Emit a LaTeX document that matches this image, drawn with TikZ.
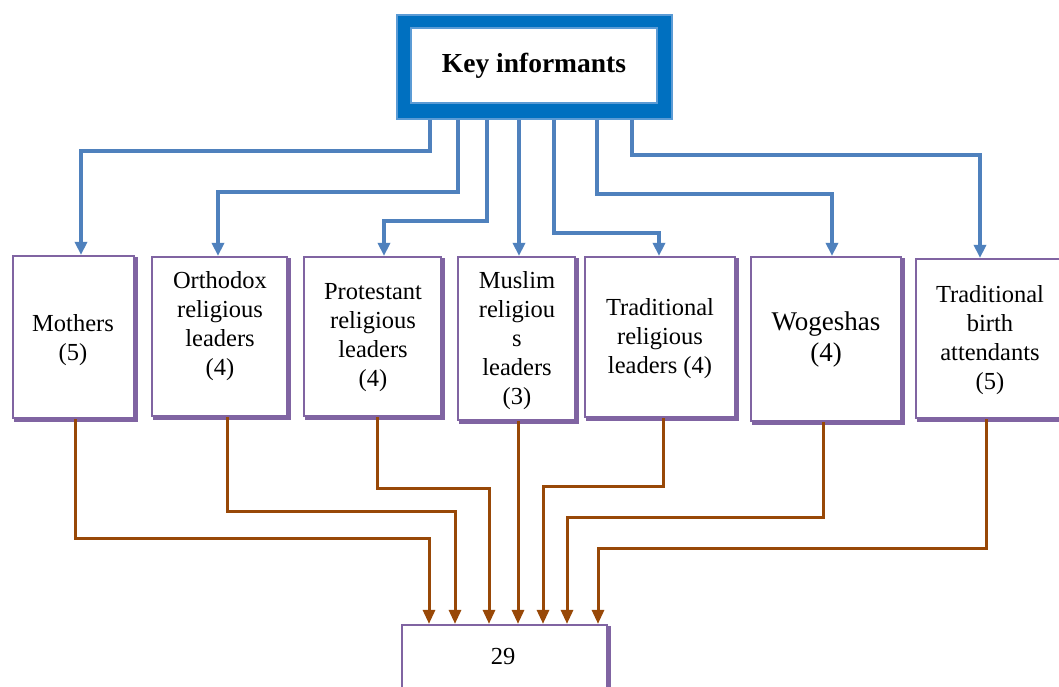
\documentclass[tikz,border=0pt]{standalone}
\usepackage{fontspec}
\setmainfont{Liberation Serif}
\usetikzlibrary{arrows.meta,shadows,calc}
\definecolor{keyblue}{HTML}{0070C0}
\definecolor{keyedge}{HTML}{5B9BD5}
\definecolor{arrblue}{HTML}{4F81BD}
\definecolor{boxpurple}{HTML}{8064A2}
\definecolor{arrbrown}{HTML}{984807}
\tikzset{
  pbox/.style={draw=boxpurple, line width=2.2pt, fill=white, inner sep=0pt,
    general shadow={fill=boxpurple, draw=boxpurple, line width=2.2pt, shadow xshift=2.5pt, shadow yshift=-2.5pt}},
  lbl/.style={align=center, inner sep=0pt, font=\fontsize{24.5}{29}\selectfont},
  blueconn/.style={draw=arrblue, line width=3.5pt, -{Triangle[width=12pt,length=13pt]}},
  brownconn/.style={draw=arrbrown, line width=3pt, -{Triangle[width=12pt,length=14pt]}},
}
\begin{document}
\begin{tikzpicture}[x=1pt,y=-1pt]
\useasboundingbox (0,0) rectangle (1059,687);
\clip (0,0) rectangle (1059,687);
\fill[white] (0,0) rectangle (1059,687);
% key informants box
\node[draw=keyedge, line width=1.5pt, fill=keyblue, minimum width=275pt, minimum height=104pt, inner sep=0pt] (key) at (534.5,67) {};
\node[draw=keyedge, line width=2pt, fill=white, minimum width=246pt, minimum height=75pt, inner sep=0pt] (keyin) at (533.5,65.5) {};
\node[inner sep=0pt, font=\fontsize{27.5}{32}\selectfont\bfseries] (keytext) at (534,66) {Key informants};
% boxes
\node[pbox, minimum width=121pt, minimum height=162pt] (mothers) at (73.5,337) {};
\node[pbox, minimum width=135pt, minimum height=159pt] (orthodox) at (219.5,336.5) {};
\node[pbox, minimum width=137pt, minimum height=159pt] (protestant) at (372.5,336.5) {};
\node[pbox, minimum width=117pt, minimum height=163pt] (muslim) at (516.5,338.5) {};
\node[pbox, minimum width=150pt, minimum height=160pt] (traditional) at (660,337) {};
\node[pbox, minimum width=150pt, minimum height=164pt] (wogeshas) at (826,339) {};
\node[pbox, minimum width=149pt, minimum height=159pt] (tba) at (990.5,338.5) {};
\node[pbox, minimum width=205pt, minimum height=75pt] (total) at (504.5,662.5) {};
% labels
\node[lbl] (tmothers) at (73,340) {Mothers\\(5)};
\node[lbl] (torthodox) at (220,326) {Orthodox\\religious\\leaders\\(4)};
\node[lbl] (tprotestant) at (373,338) {Protestant\\religious\\leaders\\(4)};
\node[lbl] (tmuslim) at (517,341) {Muslim\\religiou\\s\\leaders\\(3)};
\node[lbl] (ttraditional) at (660,339) {Traditional\\religious\\leaders (4)};
\node[lbl, font=\fontsize{27}{31}\selectfont] (twogeshas) at (826,340) {Wogeshas\\(4)};
\node[lbl] (ttba) at (990,340) {Traditional\\birth\\attendants\\(5)};
\node[lbl] (ttotal) at (503,657) {29};
% blue connector coordinates
\coordinate (k1) at ($(key.south)+(-104.5,0)$);
\coordinate (k2) at ($(key.south)+(-76.5,0)$);
\coordinate (k3) at ($(key.south)+(-47.5,0)$);
\coordinate (k4) at ($(key.south)+(-15.5,0)$);
\coordinate (k5) at ($(key.south)+(19.5,0)$);
\coordinate (k6) at ($(key.south)+(62.5,0)$);
\coordinate (k7) at ($(key.south)+(97.5,0)$);
\draw[blueconn] (k1) -- (k1 |- 0,151) -| ([xshift=7.5pt]mothers.north);
\draw[blueconn] (k2) -- (k2 |- 0,192) -| ([xshift=-1.5pt]orthodox.north);
\draw[blueconn] (k3) -- (k3 |- 0,221) -| ([xshift=11.5pt]protestant.north);
\draw[blueconn] (k4) -- (k4 |- muslim.north);
\draw[blueconn] (k5) -- (k5 |- 0,233) -| ([xshift=-1pt]traditional.north);
\draw[blueconn] (k6) -- (k6 |- 0,194) -| ([xshift=6pt]wogeshas.north);
\draw[blueconn] (k7) -- (k7 |- 0,155) -| ([xshift=-10.5pt]tba.north);
% brown connectors
\coordinate (t1) at ($(total.north)+(-75.5,0)$);
\coordinate (t2) at ($(total.north)+(-49.5,0)$);
\coordinate (t3) at ($(total.north)+(-15.5,0)$);
\coordinate (t4) at ($(total.north)+(13.5,0)$);
\coordinate (t5) at ($(total.north)+(38.5,0)$);
\coordinate (t6) at ($(total.north)+(62.5,0)$);
\coordinate (t7) at ($(total.north)+(93.5,0)$);
\draw[brownconn] ([xshift=1.5pt]mothers.south) |- (0,538 -| t1) -- (t1);
\draw[brownconn] ([xshift=7.5pt]orthodox.south) |- (0,511 -| t2) -- (t2);
\draw[brownconn] ([xshift=4.5pt]protestant.south) |- (0,488 -| t3) -- (t3);
\draw[brownconn] (muslim.south -| t4) -- (t4);
\draw[brownconn] ([xshift=3pt]traditional.south) |- (0,486 -| t5) -- (t5);
\draw[brownconn] ([xshift=-3pt]wogeshas.south) |- (0,517 -| t6) -- (t6);
\draw[brownconn] ([xshift=-4.5pt]tba.south) |- (0,548 -| t7) -- (t7);
\end{tikzpicture}
\end{document}
